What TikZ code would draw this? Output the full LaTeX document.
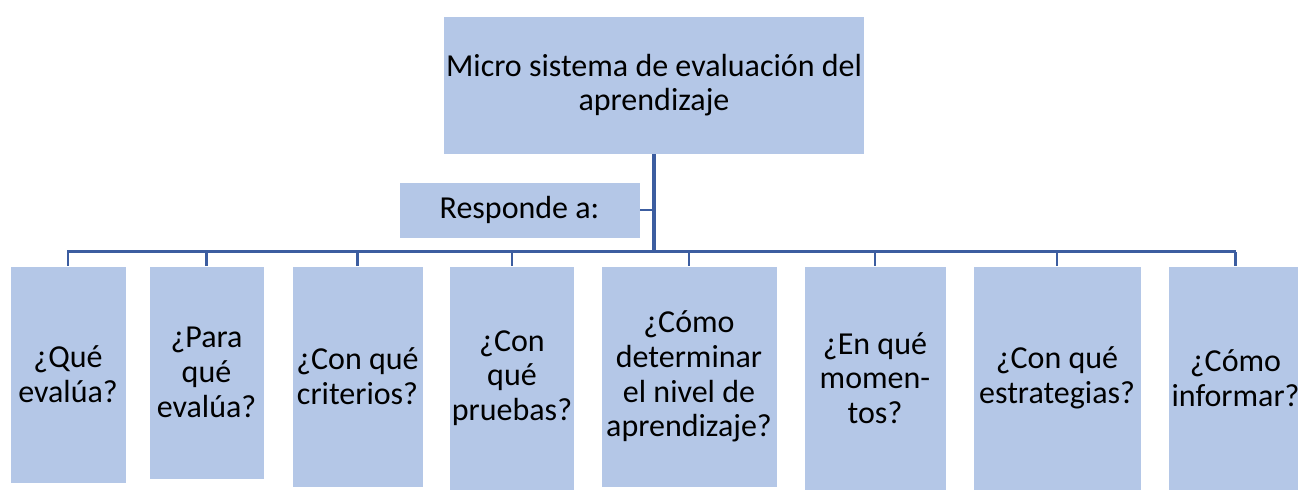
\documentclass[tikz,border=0pt]{standalone}
\usepackage{fontspec}
\setmainfont{Carlito}
\definecolor{boxfill}{HTML}{B4C7E7}
\definecolor{linkblue}{RGB}{60,93,160}
\begin{document}
\begin{tikzpicture}[x=0.75pt,y=-0.75pt,
  box/.style={draw=white, line width=0.6pt, fill=boxfill, align=center, inner sep=2pt,
    font=\fontsize{24}{26}\selectfont},
  link/.style={draw=linkblue, line width=2pt}]
\useasboundingbox (0,0) rectangle (1298,491);
\begin{scope}
\clip (0,0) rectangle (1298,491);
\node[box, minimum width=315pt, minimum height=103.5pt] (top) at (654,85) {Micro sistema de evaluación del\\aprendizaje};
\node[box, minimum width=180.75pt, minimum height=42pt] (resp) at (519.5,210) {Responde a:};
\node[box, minimum width=87pt, minimum height=162.75pt] (b1) at (68,374.5) {¿Qué\\evalúa?};
\node[box, minimum width=86.25pt, minimum height=159.75pt] (b2) at (206.5,372.5) {¿Para\\qué\\evalúa?};
\node[box, minimum width=98.25pt, minimum height=165.75pt] (b3) at (357.5,376.5) {¿Con qué\\criterios?};
\node[box, minimum width=91.5pt, minimum height=168pt] (b4) at (512,378) {¿Con\\qué\\pruebas?};
\node[box, minimum width=132pt, minimum height=165.75pt] (b5) at (689,376.5) {¿Cómo\\determinar\\el nivel de\\aprendizaje?};
\node[box, minimum width=106.5pt, minimum height=168pt] (b6) at (875,378) {¿En qué\\momen-\\tos?};
\node[box, minimum width=126pt, minimum height=168pt] (b7) at (1057,378) {¿Con qué\\estrategias?};
\node[box, minimum width=100.5pt, minimum height=168pt] (b8) at (1235.5,378) {¿Cómo\\informar?};
\end{scope}
\coordinate (busL) at (67,252);
\coordinate (busR) at (1236,252);
\draw[link, line width=2.25pt] (busL) -- (busR);
\draw[link, line width=3pt] (top.south) -- (top.south |- busL);
\draw[link, line width=1.5pt] (resp.east) -- (resp.east -| top.south);
\foreach \n in {b1,b2,b3,b4,b5,b6,b7,b8}
  \draw[link] (\n.north) -- (\n.north |- busL);
\end{tikzpicture}
\end{document}
